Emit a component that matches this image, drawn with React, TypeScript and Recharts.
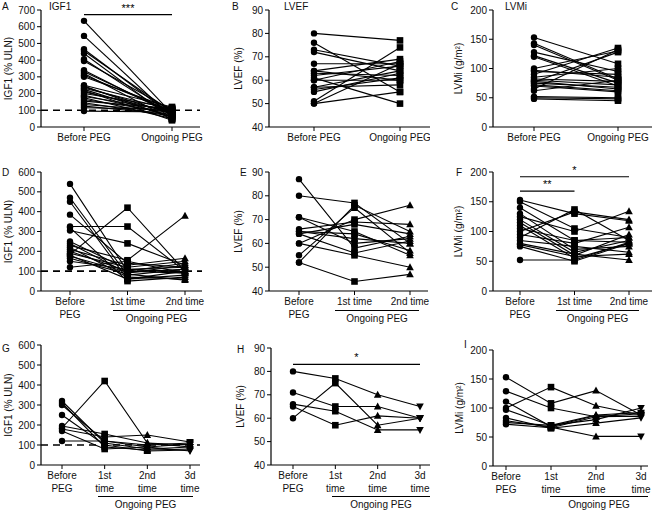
import { LineChart, Line, XAxis, YAxis, ReferenceLine } from "recharts";

const FONT = "'Liberation Sans', Arial, sans-serif";

const catsTwo = ["Before PEG", "Ongoing PEG"];
const catsThree = ["Before\nPEG", "1st time", "2nd time"];
const catsFour = ["Before\nPEG", "1st\ntime", "2nd\ntime", "3d\ntime"];

const igfTicks = [0, 100, 200, 300, 400, 500, 600];
const igfTicksA = [0, 100, 200, 300, 400, 500, 600, 700];
const lvefTicks = [40, 50, 60, 70, 80, 90];
const lvmiTicks = [0, 50, 100, 150, 200];

// each row = one patient, values per time point
const igf1Two = [
  [635, 80], [545, 60], [465, 70], [455, 90], [440, 50], [405, 65], [395, 100],
  [340, 75], [330, 85], [320, 45], [310, 95], [300, 110], [250, 120], [245, 55],
  [240, 80], [232, 105], [225, 60], [218, 40], [210, 90], [200, 115], [190, 70],
  [182, 100], [175, 50], [165, 85], [155, 110], [145, 65], [135, 95], [125, 75],
  [115, 105], [95, 90],
];
const lvefTwo = [
  [80, 77], [76, 55], [73, 66], [72, 64], [67, 67], [64, 69], [63, 62], [62, 66],
  [60, 60], [60, 68], [57, 64], [56, 61], [55, 63], [51, 74], [50, 67], [50, 55],
  [61, 50], [57, 58], [64, 60],
];
const lvmiTwo = [
  [153, 108], [143, 82], [140, 80], [128, 95], [122, 75], [120, 70], [100, 130],
  [97, 85], [95, 90], [90, 135], [85, 100], [82, 78], [80, 72], [78, 65],
  [77, 128], [75, 68], [72, 62], [70, 60], [65, 132], [62, 80], [52, 50],
  [50, 48], [48, 45],
];

const igf1Three = [
  [540, 100, 90], [470, 80, 110], [450, 60, 100], [385, 140, 120], [325, 325, 100],
  [320, 50, 70], [305, 240, 130], [250, 110, 95], [240, 90, 130], [230, 155, 380],
  [220, 70, 60], [210, 130, 165], [200, 100, 140], [190, 120, 150], [185, 420, 100],
  [180, 60, 80], [175, 95, 110], [165, 85, 55], [150, 110, 120], [120, 150, 90],
];
const lvefThree = [
  [87, 58, 63], [80, 77, 60], [71, 65, 55], [71, 60, 62], [66, 69, 68], [65, 64, 57],
  [64, 56, 61], [64, 68, 64], [60, 70, 76], [60, 55, 50], [55, 75, 56], [52, 76, 65],
  [52, 44, 47], [65, 62, 60],
];
const lvmiThree = [
  [153, 130, 118], [150, 105, 90], [140, 85, 82], [130, 70, 75], [125, 100, 134],
  [120, 65, 85], [115, 60, 95], [110, 55, 80], [100, 133, 120], [95, 80, 107],
  [90, 137, 85], [85, 75, 65], [80, 62, 52], [78, 58, 62], [75, 50, 80],
  [52, 52, 82], [105, 85, 90],
];

const igf1Four = [
  [320, 110, 80, 90], [310, 90, 75, 80], [300, 120, 100, 110], [250, 100, 70, 75],
  [195, 155, 110, 100], [185, 420, 110, 90], [180, 140, 150, 115], [170, 80, 90, 105],
  [120, 120, 90, 70],
];
const lvefFour = [
  [80, 77, 70, 65], [71, 65, 65, 60], [66, 63, 55, 55], [65, 57, 61, 60], [60, 75, 57, 60],
];
const lvmiFour = [
  [153, 108, 130, 88], [129, 100, 85, 90], [111, 68, 87, 85], [100, 136, 104, 88],
  [97, 70, 80, 100], [83, 65, 74, 83], [78, 67, 51, 51], [75, 70, 88, 92], [72, 66, 85, 86],
];

function Marker(props: any) {
  const { cx, cy, index } = props;
  if (cx == null || cy == null) return null;
  const k = `m-${index}-${cx}-${cy}`;
  if (index === 0) return <circle key={k} cx={cx} cy={cy} r={3.2} fill="#000" />;
  if (index === 1) return <rect key={k} x={cx - 3.3} y={cy - 3.3} width={6.6} height={6.6} fill="#000" />;
  if (index === 2)
    return <path key={k} d={`M${cx},${cy - 4} L${cx + 3.8},${cy + 3} L${cx - 3.8},${cy + 3} Z`} fill="#000" />;
  return <path key={k} d={`M${cx},${cy + 4} L${cx + 3.8},${cy - 3} L${cx - 3.8},${cy - 3} Z`} fill="#000" />;
}

function XTick(props: any) {
  const { x, y, payload } = props;
  const lines = String(payload.value).split("\n");
  return (
    <text x={x} y={y} textAnchor="middle" fontSize={10} fill="#111" fontFamily={FONT}>
      {lines.map((l, i) => (
        <tspan key={i} x={x} dy={i === 0 ? 8 : 12.5}>
          {l}
        </tspan>
      ))}
    </text>
  );
}

type Sig = { from: string; to: string; y: number; text: string };

type PanelProps = {
  box: [number, number, number, number];
  plot: [number, number, number, number]; // left, right, top, bottom (page)
  ends: [number, number];
  cats: string[];
  series: number[][];
  domain: [number, number];
  ticks: number[];
  yLabel: string;
  yLabelX: number;
  letter: string;
  letterPos: [number, number];
  title?: string;
  titlePos?: [number, number];
  dashed?: boolean;
  sigs?: Sig[];
  group?: [number, number, number];
};

function Panel(p: PanelProps) {
  const [bx, by, bw, bh] = p.box;
  const [pl, pr, pt, pb] = p.plot;
  const rows = p.cats.map((c, i) => {
    const r: Record<string, any> = { cat: c };
    p.series.forEach((s, j) => (r[`s${j}`] = s[i]));
    return r;
  });
  return (
    <>
      <div style={{ position: "absolute", left: bx, top: by }}>
        <LineChart
          width={bw}
          height={bh}
          data={rows}
          margin={{ top: pt - by, right: bx + bw - pr, bottom: 0, left: 0 }}
        >
          <XAxis
            dataKey="cat"
            height={by + bh - pb}
            padding={{ left: p.ends[0] - pl, right: pr - p.ends[1] }}
            tick={<XTick />}
            tickSize={4}
            interval={0}
            axisLine={{ stroke: "#000", strokeWidth: 1.2 }}
            tickLine={{ stroke: "#000" }}
          />
          <YAxis
            type="number"
            width={pl - bx}
            domain={p.domain}
            ticks={p.ticks}
            interval={0}
            tickSize={4}
            allowDataOverflow
            axisLine={{ stroke: "#000", strokeWidth: 1.2 }}
            tickLine={{ stroke: "#000" }}
            tick={{ fontSize: 10, fill: "#111", fontFamily: FONT }}
            label={{
              content: ({ viewBox }: any) => (
                <text
                  x={viewBox.x + p.yLabelX}
                  y={viewBox.y + viewBox.height / 2}
                  transform={`rotate(-90 ${viewBox.x + p.yLabelX} ${viewBox.y + viewBox.height / 2})`}
                  textAnchor="middle"
                  dominantBaseline="central"
                  fontSize={10}
                  fill="#111"
                  fontFamily={FONT}
                >
                  {p.yLabel}
                </text>
              ),
            }}
          />
          {p.series.map((_, j) => (
            <Line
              key={j}
              dataKey={`s${j}`}
              stroke="#000"
              strokeWidth={1.1}
              dot={(d: any) => <Marker {...d} key={`d${j}-${d.index}`} />}
              activeDot={false}
              isAnimationActive={false}
            />
          ))}
          {p.dashed && (
            <ReferenceLine y={100} stroke="#000" strokeWidth={1.6} strokeDasharray="7 5" />
          )}
          {(p.sigs || []).map((s, i) => (
            <ReferenceLine
              key={`sig${i}`}
              segment={[
                { x: s.from, y: s.y },
                { x: s.to, y: s.y },
              ]}
              stroke="#000"
              strokeWidth={1.2}
              label={{ value: s.text, position: "top", offset: 3, fontSize: 11, fill: "#000", fontFamily: FONT }}
            />
          ))}
        </LineChart>
      </div>
      <div style={{ position: "absolute", left: p.letterPos[0], top: p.letterPos[1], fontSize: 10, lineHeight: "10px" }}>
        {p.letter}
      </div>
      {p.title && p.titlePos && (
        <div style={{ position: "absolute", left: p.titlePos[0], top: p.titlePos[1], fontSize: 10, lineHeight: "10px" }}>
          {p.title}
        </div>
      )}
      {p.group && (
        <div
          style={{
            position: "absolute",
            left: p.group[0],
            top: p.group[2],
            width: p.group[1] - p.group[0],
            borderTop: "1.2px solid #000",
            textAlign: "center",
            fontSize: 10,
            lineHeight: "12px",
            paddingTop: 2,
            whiteSpace: "nowrap",
          }}
        >
          Ongoing PEG
        </div>
      )}
    </>
  );
}

export default function App() {
  return (
    <div
      style={{
        position: "absolute",
        left: 0,
        top: 0,
        width: 657,
        height: 510,
        background: "#fff",
        fontFamily: FONT,
        color: "#111",
      }}
    >
      <Panel
        box={[0, 0, 210, 165]}
        plot={[41, 200, 10, 127]}
        ends={[84, 172]}
        cats={catsTwo}
        series={igf1Two}
        domain={[0, 700]}
        ticks={igfTicksA}
        yLabel="IGF1 (% ULN)"
        yLabelX={8}
        letter="A"
        letterPos={[2, 2]}
        title="IGF1"
        titlePos={[49, 2]}
        dashed
        sigs={[{ from: "Before PEG", to: "Ongoing PEG", y: 672, text: "***" }]}
      />
      <Panel
        box={[210, 0, 220, 165]}
        plot={[269, 430, 10, 127]}
        ends={[314, 400]}
        cats={catsTwo}
        series={lvefTwo}
        domain={[40, 90]}
        ticks={lvefTicks}
        yLabel="LVEF (%)"
        yLabelX={28}
        letter="B"
        letterPos={[232, 2]}
        title="LVEF"
        titlePos={[284, 2]}
      />
      <Panel
        box={[430, 0, 227, 165]}
        plot={[493, 652, 10, 127]}
        ends={[534, 618]}
        cats={catsTwo}
        series={lvmiTwo}
        domain={[0, 200]}
        ticks={lvmiTicks}
        yLabel="LVMi (g/m²)"
        yLabelX={28}
        letter="C"
        letterPos={[451, 2]}
        title="LVMi"
        titlePos={[505, 2]}
      />

      <Panel
        box={[0, 165, 210, 170]}
        plot={[41, 202, 172, 291]}
        ends={[70, 185]}
        cats={catsThree}
        series={igf1Three}
        domain={[0, 600]}
        ticks={igfTicks}
        yLabel="IGF1 (% ULN)"
        yLabelX={8}
        letter="D"
        letterPos={[2, 168]}
        dashed
        group={[113, 200, 310]}
      />
      <Panel
        box={[210, 165, 220, 170]}
        plot={[269, 428, 172, 291]}
        ends={[299, 410]}
        cats={catsThree}
        series={lvefThree}
        domain={[40, 90]}
        ticks={lvefTicks}
        yLabel="LVEF (%)"
        yLabelX={28}
        letter="E"
        letterPos={[240, 168]}
        group={[335, 419, 310]}
      />
      <Panel
        box={[430, 165, 227, 170]}
        plot={[493, 652, 172, 291]}
        ends={[520, 629]}
        cats={catsThree}
        series={lvmiThree}
        domain={[0, 200]}
        ticks={lvmiTicks}
        yLabel="LVMi (g/m²)"
        yLabelX={28}
        letter="F"
        letterPos={[456, 168]}
        group={[556, 639, 310]}
        sigs={[
          { from: "Before\nPEG", to: "1st time", y: 168, text: "**" },
          { from: "Before\nPEG", to: "2nd time", y: 192, text: "*" },
        ]}
      />

      <Panel
        box={[0, 335, 210, 175]}
        plot={[41, 200, 345, 465]}
        ends={[62, 190]}
        cats={catsFour}
        series={igf1Four}
        domain={[0, 600]}
        ticks={igfTicks}
        yLabel="IGF1 (% ULN)"
        yLabelX={8}
        letter="G"
        letterPos={[2, 344]}
        dashed
        group={[98, 193, 496]}
      />
      <Panel
        box={[210, 335, 220, 175]}
        plot={[271, 430, 348, 465]}
        ends={[293, 420]}
        cats={catsFour}
        series={lvefFour}
        domain={[40, 90]}
        ticks={lvefTicks}
        yLabel="LVEF (%)"
        yLabelX={30}
        letter="H"
        letterPos={[237, 345]}
        group={[332, 430, 496]}
        sigs={[{ from: "Before\nPEG", to: "3d\ntime", y: 83, text: "*" }]}
      />
      <Panel
        box={[430, 335, 227, 175]}
        plot={[493, 648, 350, 466]}
        ends={[506, 641]}
        cats={catsFour}
        series={lvmiFour}
        domain={[0, 200]}
        ticks={lvmiTicks}
        yLabel="LVMi (g/m²)"
        yLabelX={29}
        letter="I"
        letterPos={[464, 340]}
        group={[550, 648, 496]}
      />
    </div>
  );
}
